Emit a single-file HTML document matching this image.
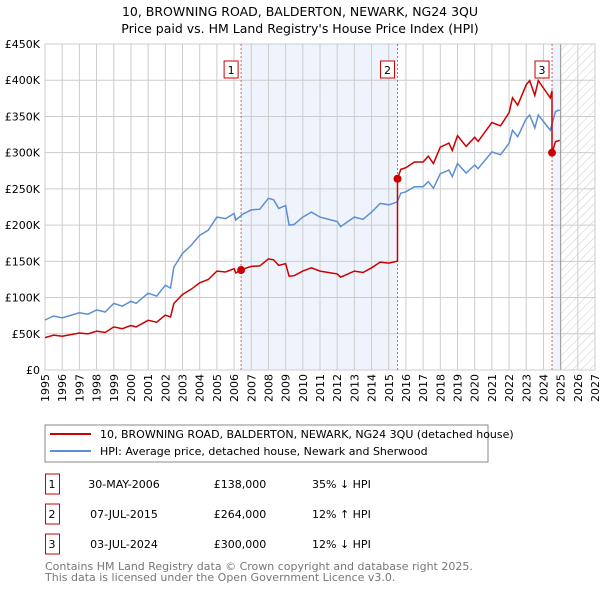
<!DOCTYPE html>
<html><head><meta charset="utf-8"><style>
body{margin:0;background:#fff;font-family:"DejaVu Sans","Liberation Sans",sans-serif;}
svg text{font-family:"DejaVu Sans","Liberation Sans",sans-serif;}
</style></head><body>
<svg id="chart" width="600" height="590" xmlns="http://www.w3.org/2000/svg">
<defs><pattern id="hatch" patternUnits="userSpaceOnUse" width="6" height="6" patternTransform="rotate(45)"><line x1="0" y1="0" x2="0" y2="6" stroke="#ccc" stroke-width="1"/></pattern></defs>
<text x="300" y="16" text-anchor="middle" font-size="12.5">10, BROWNING ROAD, BALDERTON, NEWARK, NG24 3QU</text>
<text x="300" y="33" text-anchor="middle" font-size="12.5">Price paid vs. HM Land Registry's House Price Index (HPI)</text>
<g id="plot"></g>
<g>
<rect x="45" y="425" width="443" height="37" fill="#fff" stroke="#888"/>
<line x1="50" y1="434" x2="91" y2="434" stroke="#cc0000" stroke-width="2"/>
<text x="100" y="438" font-size="11">10, BROWNING ROAD, BALDERTON, NEWARK, NG24 3QU (detached house)</text>
<line x1="50" y1="451" x2="91" y2="451" stroke="#5b8fd4" stroke-width="2"/>
<text x="100" y="455" font-size="11">HPI: Average price, detached house, Newark and Sherwood</text>
</g>
<g id="table"></g>
<text x="45" y="570" font-size="11" fill="#777">Contains HM Land Registry data © Crown copyright and database right 2025.</text>
<text x="45" y="581" font-size="11" fill="#777">This data is licensed under the Open Government Licence v3.0.</text>
</svg>
<script>
const hpiYears=[1995,1995.5,1996,1997,1997.5,1998,1998.5,1999,1999.5,2000,2000.3,2001,2001.5,2002,2002.3,2002.5,2003,2003.5,2004,2004.5,2005,2005.5,2006,2006.1,2006.5,2007,2007.5,2008,2008.3,2008.6,2009,2009.2,2009.5,2010,2010.5,2011,2012,2012.2,2013,2013.5,2014,2014.5,2015,2015.5,2015.7,2016,2016.5,2017,2017.3,2017.6,2018,2018.5,2018.7,2019,2019.5,2020,2020.2,2021,2021.5,2022,2022.2,2022.5,2023,2023.2,2023.5,2023.7,2024,2024.4,2024.7,2024.95];
const hpiValues=[69,74.5,72,79,77,83,80,92,88,95,92,106,102,117,113,142,161,172,186,193,211,209,216,207,215,221,222,237,235,223,227,200,201,211,218,211,205,198,211,208,218,230,228,232,244,246,253,253,260,251,271,276,267,285,272,283,278,301,297,313,331,322,347,352,334,352,343,331,357,359];
const saleYears=[2006.41,2015.51,2024.5];
const salePrices=[138,264,300];
const saleLabels=["1","2","3"];
const saleDates=["30-MAY-2006","07-JUL-2015","03-JUL-2024"];
const salePriceText=["£138,000","£264,000","£300,000"];
const saleHpiText=["35% ↓ HPI","12% ↑ HPI","12% ↓ HPI"];
const yTicks=[0,50,100,150,200,250,300,350,400,450];
const yTickLabels=["£0","£50K","£100K","£150K","£200K","£250K","£300K","£350K","£400K","£450K"];
const xTicks=[1995,1996,1997,1998,1999,2000,2001,2002,2003,2004,2005,2006,2007,2008,2009,2010,2011,2012,2013,2014,2015,2016,2017,2018,2019,2020,2021,2022,2023,2024,2025,2026,2027];

const X0=45,X1=595,Y0=370,Y1=44;
const xs=v=>X0+(v-1995)/(2027-1995)*(X1-X0);
const ys=v=>Y0-v/450*(Y0-Y1);
const NS="http://www.w3.org/2000/svg";
const plot=document.getElementById('plot');
function mk(tag,attrs,parent){const e=document.createElementNS(NS,tag);for(const k in attrs)e.setAttribute(k,attrs[k]);(parent||plot).appendChild(e);return e;}
function hpiAt(t){for(let i=0;i<hpiYears.length-1;i++){if(t>=hpiYears[i]&&t<=hpiYears[i+1]){const f=(t-hpiYears[i])/(hpiYears[i+1]-hpiYears[i]);return hpiValues[i]+f*(hpiValues[i+1]-hpiValues[i]);}}return hpiValues[hpiValues.length-1];}

let r=mk('rect',{x:X0,y:Y1,width:X1-X0,height:Y0-Y1,fill:'#fff'});


let s1=mk('rect',{x:xs(saleYears[0]),y:Y1,width:xs(saleYears[1])-xs(saleYears[0]),height:Y0-Y1,fill:'#eef3fc'});


let s2=mk('rect',{x:xs(saleYears[2]),y:Y1,width:xs(2025)-xs(saleYears[2]),height:Y0-Y1,fill:'#eef3fc'});


let h=mk('rect',{x:xs(2025),y:Y1,width:X1-xs(2025),height:Y0-Y1,fill:'url(#hatch)'});


xTicks.forEach(t=>{
 let l=mk('line',{x1:xs(t),x2:xs(t),y1:Y1,y2:Y0,stroke:'#cccccc','stroke-width':1});
 
 
 let tx=mk('text',{x:0,y:0,'text-anchor':'end','font-size':11,transform:'translate('+(xs(t)+4)+',374) rotate(-90)'});
 
 
 tx.textContent=t;
});
yTicks.forEach((t,i)=>{
 let l=mk('line',{x1:X0,x2:X1,y1:ys(t),y2:ys(t),stroke:'#cccccc','stroke-width':1});
 
 
 let tx=mk('text',{x:40,y:ys(t)+4,'text-anchor':'end','font-size':11});
 
 
 tx.textContent=yTickLabels[i];
});
let nowl=mk('line',{x1:xs(2025),x2:xs(2025),y1:Y1,y2:Y0,stroke:'#999','stroke-width':1});


let bd=mk('rect',{x:X0,y:Y1,width:X1-X0,height:Y0-Y1,fill:'none',stroke:'#ccc'});


saleYears.forEach((t,i)=>{
 let l=mk('line',{x1:xs(t),x2:xs(t),y1:Y1,y2:Y0,stroke:'#e06060','stroke-width':1,'stroke-dasharray':'2,2'});
 
 
 let b=mk('rect',{x:xs(t)-17,y:61,width:14,height:17,fill:'#fff',stroke:'#cc0000'});
 
 
 let tx=mk('text',{x:xs(t)-10,y:74,'text-anchor':'middle','font-size':11});
 
 
 tx.textContent=saleLabels[i];
});
let hp=hpiYears.map((t,i)=>xs(t).toFixed(1)+','+ys(hpiValues[i]).toFixed(1)).join(' ');
let hl=mk('polyline',{points:hp,fill:'none',stroke:'#5b8fd4','stroke-width':1.5});


let pts=[];
function seg(a,b,ratio){hpiYears.forEach((t,i)=>{if(t>=a&&t<b)pts.push([t,hpiValues[i]*ratio]);});}
const r0=salePrices[0]/hpiAt(saleYears[0]);
seg(1995,saleYears[0],r0);pts.push([saleYears[0],salePrices[0]]);
seg(saleYears[0],saleYears[1],r0);pts.push([saleYears[1],hpiAt(saleYears[1])*r0]);pts.push([saleYears[1],salePrices[1]]);
const r1=salePrices[1]/hpiAt(saleYears[1]);
seg(saleYears[1],saleYears[2],r1);pts.push([saleYears[2],hpiAt(saleYears[2])*r1]);pts.push([saleYears[2],salePrices[2]]);
const r2=salePrices[2]/hpiAt(saleYears[2]);
seg(saleYears[2],2026,r2);
let rl=mk('polyline',{points:pts.map(p=>xs(p[0]).toFixed(1)+','+ys(p[1]).toFixed(1)).join(' '),fill:'none',stroke:'#cc0000','stroke-width':1.5});


saleYears.forEach((t,i)=>{
 let c=mk('circle',{cx:xs(t),cy:ys(salePrices[i]),r:4,fill:'#cc0000'});
 
 
});
const tb=document.getElementById('table');
saleYears.forEach((t,i)=>{
 const y=482+i*30;
 let b=mk('rect',{x:45.5,y:y-8,width:14,height:20,fill:'#fff',stroke:'#cc0000'},tb);
 
 
 const cols=[[52,saleLabels[i],'middle'],[124,saleDates[i],'middle'],[240,salePriceText[i],'middle'],[312,saleHpiText[i],'start']];
 cols.forEach(c=>{let tx=mk('text',{x:c[0],y:y+6,'text-anchor':c[2],'font-size':11},tb);
  
  
  tx.textContent=c[1];});
});
</script>
</body></html>
